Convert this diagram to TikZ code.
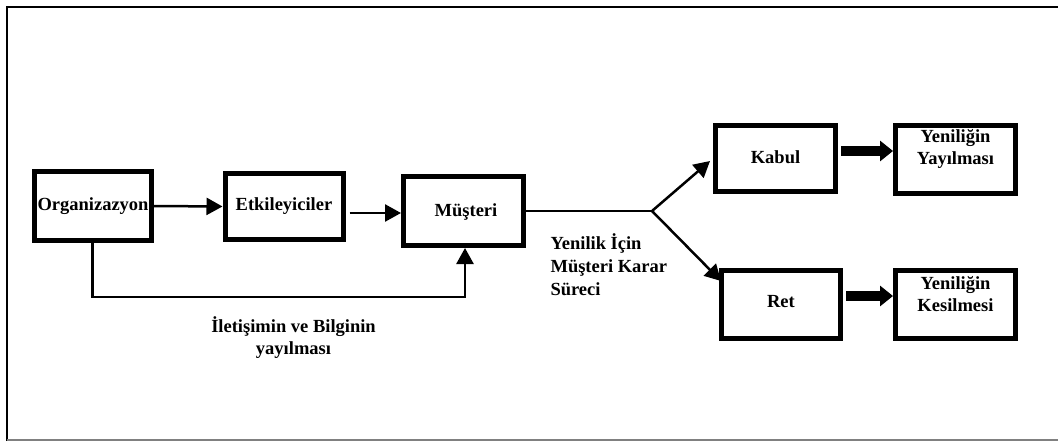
\documentclass[tikz,border=0pt]{standalone}
\usepackage{fontspec}
\setmainfont{Liberation Serif}
\usetikzlibrary{arrows.meta}
\begin{document}
\begin{tikzpicture}[x=1pt,y=-1pt,
  every node/.style={font=\fontsize{18.5}{22}\selectfont\bfseries},
  blk/.style={draw,line width=5pt,minimum width=#1,inner sep=0pt},
  flow/.style={line width=2.5pt,-{Triangle[length=16pt,width=17pt]}},
  plain/.style={line width=2.5pt},
  bigarrow/.style={line width=10pt,-{Triangle[length=13pt,width=20pt]}}]
\useasboundingbox (0,0) rectangle (1058,441);
% outer frame (left, top, bottom)
\draw[line width=2.5pt] (7,441) -- (7,7) -- (1058,7);
\draw[line width=1.5pt,gray] (7,440) -- (1058,440);

% boxes
\node[blk=117pt,minimum height=69pt] (org) at (93,206) {Organizazyon};
\node[blk=118pt,minimum height=66pt] (etk) at (284,206.5) {Etkileyiciler};
\node[blk=120pt,minimum height=69pt] (mus) at (463.5,211) {};
\node at (466,212) {Müşteri};
\node[blk=120pt,minimum height=66pt] (kab) at (775.5,158.5) {};
\node at (775.5,157) {Kabul};
\node[blk=120pt,minimum height=68pt] (yy) at (955.5,159.5) {};
\node[align=center] at (955.5,149) {Yeniliğin\\Yayılması};
\node[blk=119pt,minimum height=68pt] (ret) at (781,304.5) {};
\node at (781,301.5) {Ret};
\node[blk=120pt,minimum height=68pt] (yk) at (955.5,304.5) {};
\node[align=center] at (955.5,294) {Yeniliğin\\Kesilmesi};

% main flow
\draw[flow] (org.east) -- (etk.west);
\coordinate (etkout) at (349.5,213);
\draw[flow] (etkout) -- (etkout -| mus.west);
\coordinate (bl) at (92.5,297);
\coordinate (br) at (465,297);
\draw[flow] (org.south -| bl) -- (bl) -- (br) -- (br |- mus.south);
\node[align=center] (lbl1) at (293.5,338) {İletişimin ve Bilginin\\yayılması};

% decision branch
\coordinate (fork) at (652,211);
\draw[plain] (mus.east) -- (fork);
\draw[flow] (fork) -- (710,161);
\draw[flow] (fork) -- (721,281);
\node[align=left,anchor=north west,font=\fontsize{18.5}{23}\selectfont\bfseries] (lbl2) at (547,230.5) {Yenilik İçin\\Müşteri Karar\\Süreci};

% outcome arrows
\coordinate (ka) at (841,151);
\coordinate (ra) at (846,296);
\draw[bigarrow] (ka) -- (ka -| yy.west);
\draw[bigarrow] (ra) -- (ra -| yk.west);
\end{tikzpicture}
\end{document}
